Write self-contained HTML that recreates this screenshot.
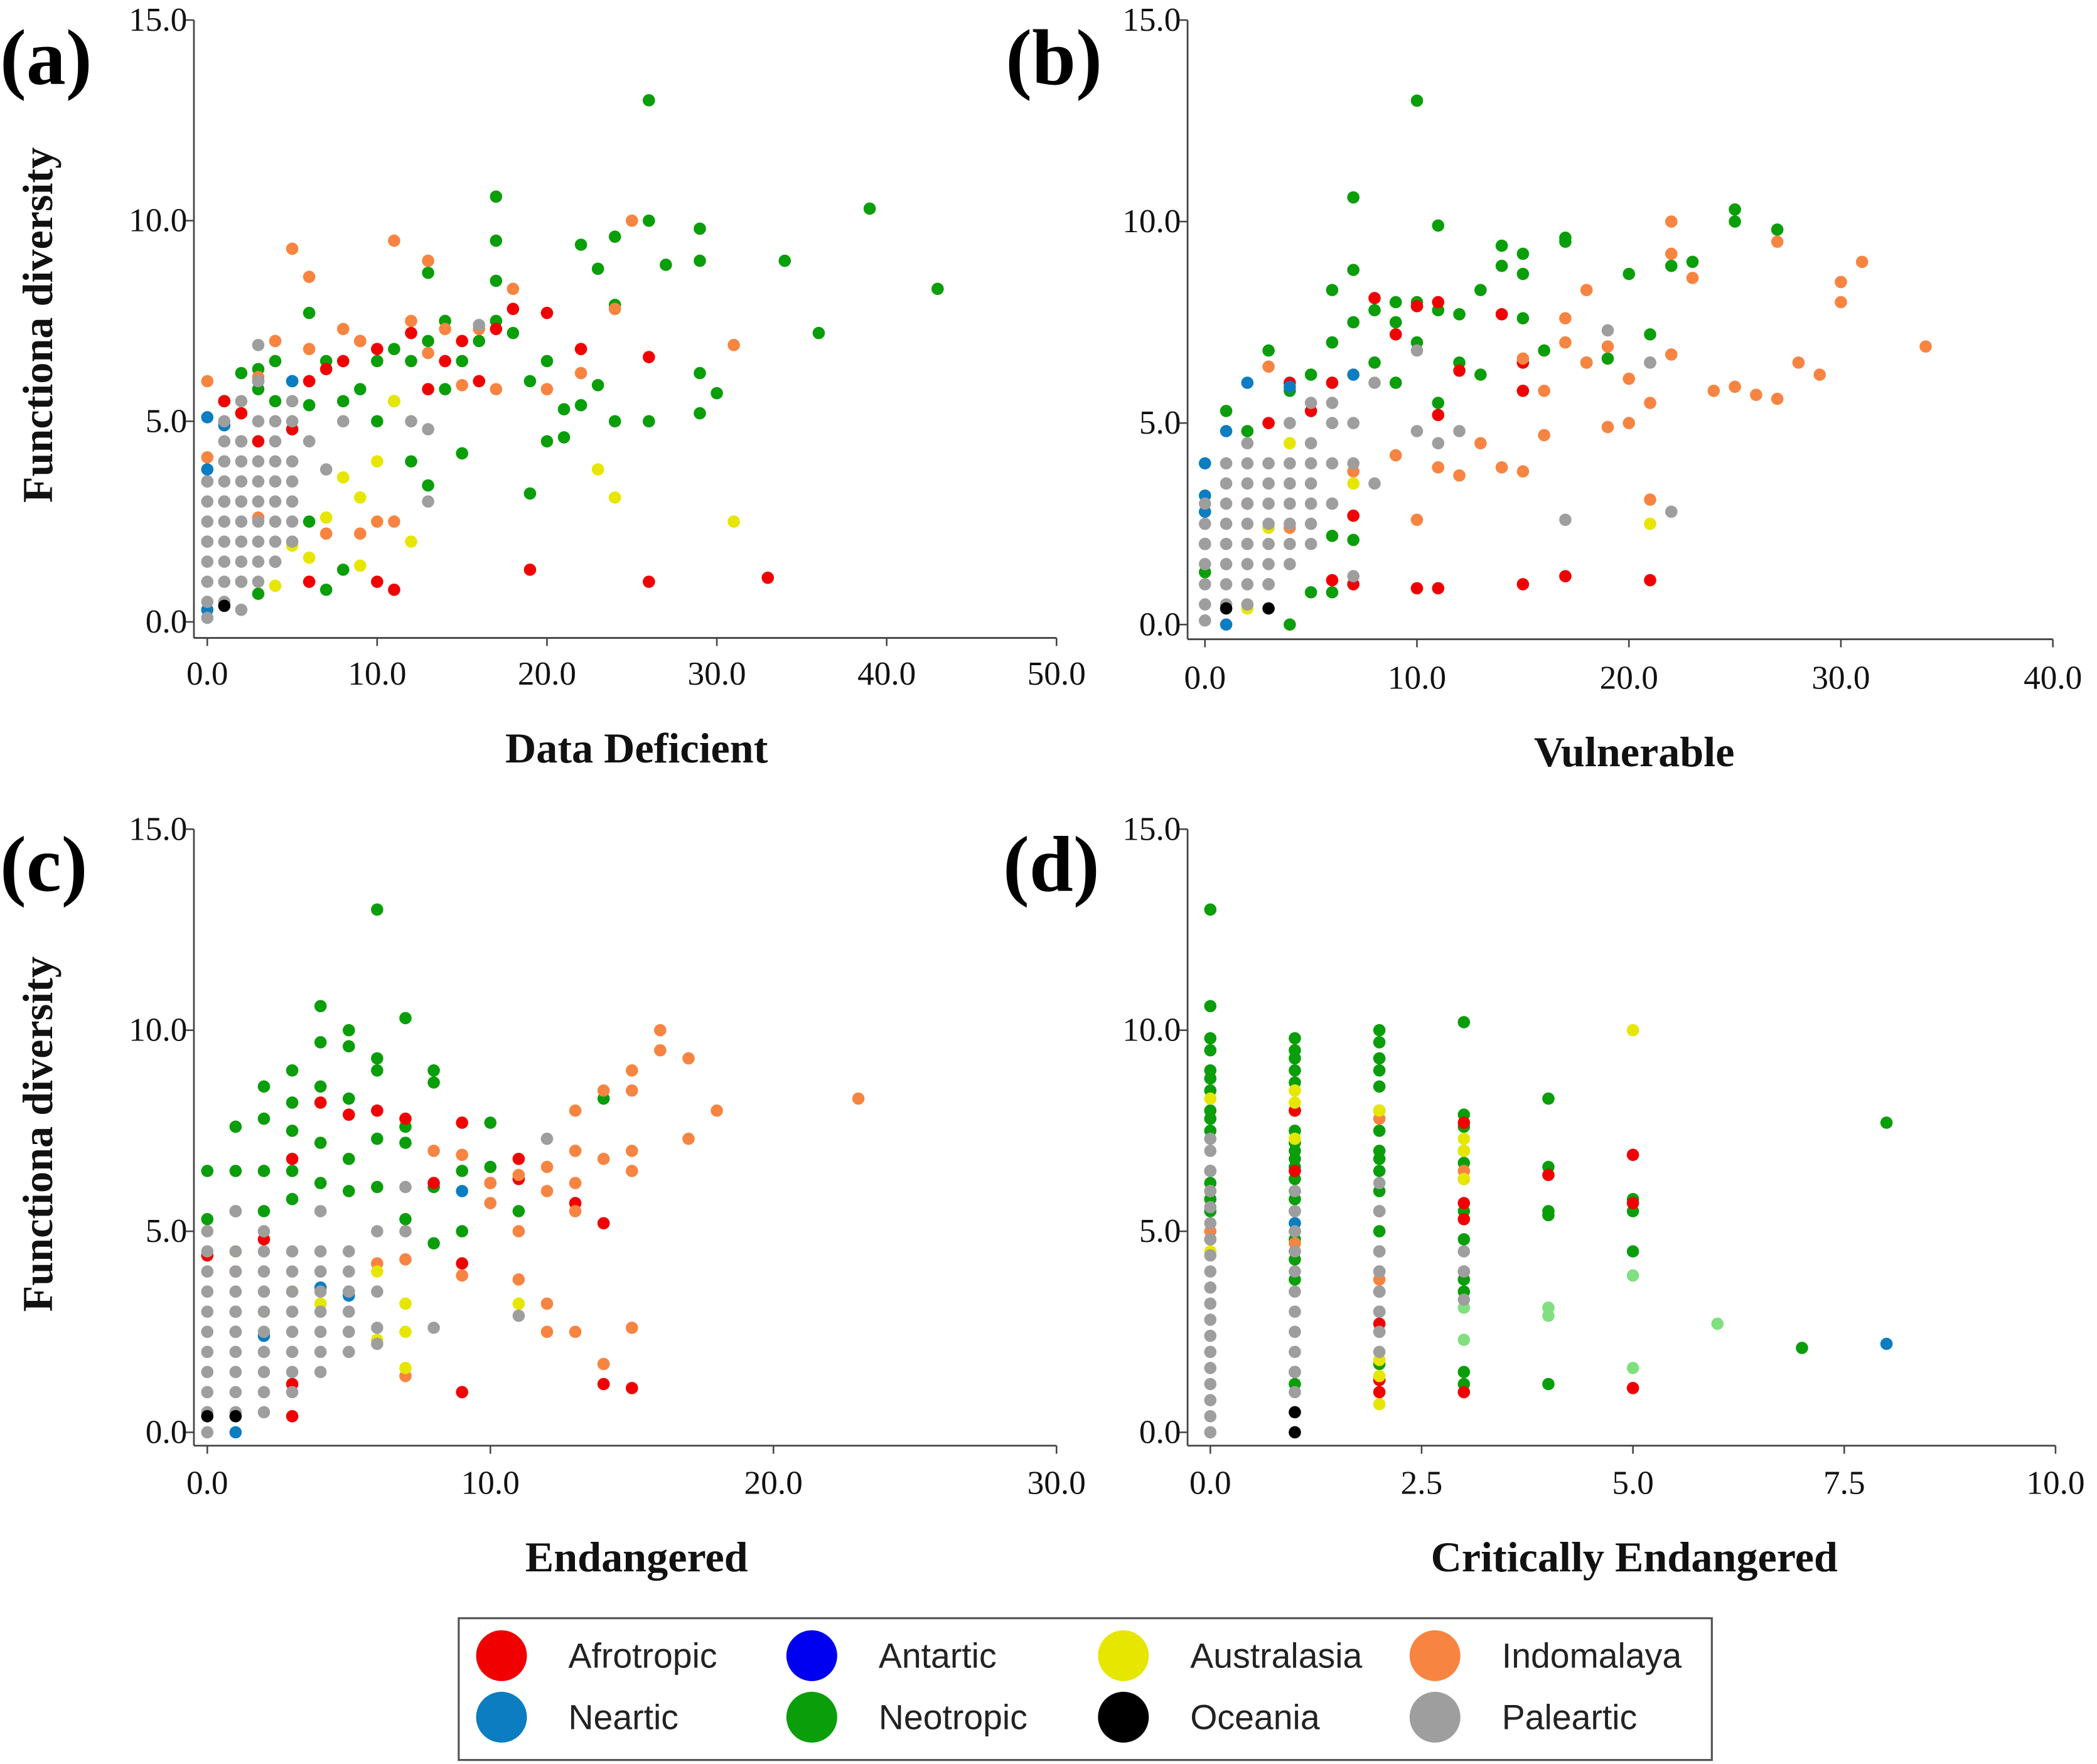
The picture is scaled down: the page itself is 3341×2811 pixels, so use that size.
<!DOCTYPE html>
<html><head><meta charset="utf-8">
<style>
html,body{margin:0;padding:0;background:#fff;}
svg{display:block;}
.tk{font-family:"Liberation Serif",serif;font-size:25px;fill:#111;}
.ttl{font-family:"Liberation Serif",serif;font-size:32px;font-weight:bold;fill:#111;}
.pl{font-family:"Liberation Serif",serif;font-size:59px;font-weight:bold;fill:#000;}
.lg{font-family:"Liberation Sans",sans-serif;font-size:26px;fill:#222;}
</style></head>
<body>
<svg id="fig" width="3341" height="2811" viewBox="0 0 1568 1319" preserveAspectRatio="none" xmlns="http://www.w3.org/2000/svg">
<rect x="0" y="0" width="1568" height="1319" fill="#fff"/>
<g id="legend">
<rect x="343" y="1210" width="937" height="106" fill="#fff" stroke="#555" stroke-width="1.5"/>
</g>
</svg>
<script>
const panelA_pale=[[0,0.1],[0,0.5],[0,1],[0,1.5],[0,2],[0,2.5],[0,3],[0,3.5],[1,0.5],[1,1],[1,1.5],[1,2],[1,2.5],[1,3],[1,3.5],[1,4],[1,4.5],[1,5],[2,0.3],[2,1],[2,1.5],[2,2],[2,2.5],[2,3],[2,3.5],[2,4],[2,4.5],[2,5.5],[3,1],[3,1.5],[3,2],[3,2.5],[3,3],[3,3.5],[3,4],[3,5],[3,6],[3,6.9],[4,1.5],[4,2],[4,2.5],[4,3],[4,3.5],[4,4],[4,4.5],[4,5],[5,2],[5,2.5],[5,3],[5,3.5],[5,4],[5,5],[5,5.5],[6,4.5],[7,3.8],[8,5],[13,3],[13,4.8],[16,7.4],[12,5]];
const panelA_neo=[[0,2],[1,3],[2,6.2],[2,1],[3,0.7],[3,6.3],[4,6.5],[4,5.5],[4,1.5],[5,6],[6,7.7],[6,2.5],[6,5.4],[7,0.8],[7,6.5],[8,1.3],[8,5.5],[9,5.8],[10,6.5],[10,5],[11,5.5],[11,6.8],[12,4],[12,6.5],[13,3.4],[13,7],[13,8.7],[14,5.8],[14,7.5],[15,4.2],[15,6.5],[16,7],[17,10.6],[17,9.5],[17,8.5],[17,7.5],[18,7.2],[19,6],[19,3.2],[20,4.5],[20,6.5],[21,5.3],[21,4.6],[22,9.4],[22,5.4],[23,8.8],[23,5.9],[24,9.6],[24,5],[24,7.9],[26,13],[26,10],[26,5],[27,8.9],[29,9.8],[29,9],[29,6.2],[29,5.2],[30,5.7],[34,9],[36,7.2],[39,10.3],[43,8.3],[1,5.5],[2,4.5],[3,5.8]];
const panelA_afro=[[1,5.5],[2,5.2],[3,4.5],[5,4.8],[6,1],[6,6],[7,6.3],[8,6.5],[9,7],[10,1],[11,0.8],[10,6.8],[12,7.2],[13,5.8],[14,6.5],[15,7],[16,6],[17,7.3],[18,7.8],[19,1.3],[20,7.7],[22,6.8],[26,6.6],[26,1],[33,1.1]];
const panelA_indo=[[0,6],[0,4.1],[1,4],[3,6.1],[4,7],[5,9.3],[5,2],[6,8.6],[6,6.8],[7,2.2],[8,7.3],[9,7],[9,2.2],[10,2.5],[11,9.5],[11,2.5],[12,7.5],[13,9],[13,6.7],[14,7.3],[15,5.9],[16,7.3],[17,5.8],[18,8.3],[20,5.8],[22,6.2],[24,7.8],[25,10],[31,6.9],[3,2.6]];
const panelA_aus=[[4,0.9],[5,1.9],[6,1.6],[7,2.6],[8,3.6],[9,3.1],[9,1.4],[11,5.5],[12,2],[23,3.8],[24,3.1],[31,2.5],[10,4]];
const panelA_nearctic=[[0,5.1],[0,3.5],[0,3.8],[1,4.9],[3,6],[5,6],[0,0.3]];
const panelA_oceania=[[1,0.4]];

const panelB_pale=[[0,0.1],[0,0.5],[0,1],[0,1.5],[0,2],[0,2.5],[0,3],[1,0.5],[1,1],[1,1.5],[1,2],[1,2.5],[1,3],[1,3.5],[1,4],[2,0.5],[2,1],[2,1.5],[2,2],[2,2.5],[2,3],[2,3.5],[2,4],[2,4.5],[3,1],[3,1.5],[3,2],[3,2.5],[3,3],[3,3.5],[3,4],[4,1.5],[4,2],[4,2.5],[4,3],[4,3.5],[4,4],[4,5],[5,2],[5,2.5],[5,3],[5,3.5],[5,4],[5,4.5],[5,5.5],[6,3],[6,4],[6,5],[6,5.5],[7,1.2],[7,4],[7,5],[8,3.5],[8,6],[10,4.8],[10,6.8],[11,4.5],[12,4.8],[17,2.6],[19,7.3],[22,2.8],[21,6.5]];
const panelB_neo=[[1,5.3],[2,4.8],[3,6.8],[3,1],[4,0],[4,5.8],[5,0.8],[5,6.2],[6,0.8],[6,8.3],[6,7],[6,2.2],[7,10.6],[7,8.8],[7,7.5],[7,2.1],[8,7.8],[8,6.5],[9,8],[9,7.5],[9,6],[10,13],[10,8],[10,7],[11,9.9],[11,7.8],[11,5.5],[12,6.5],[12,7.7],[13,8.3],[13,6.2],[14,9.4],[14,8.9],[15,9.2],[15,8.7],[15,7.6],[16,6.8],[17,9.6],[17,9.5],[18,6.5],[20,8.7],[21,7.2],[22,8.9],[23,9],[25,10.3],[25,10],[27,9.8],[19,6.6],[0,1.3]];
const panelB_afro=[[2,3],[3,5],[4,6],[5,5.3],[6,1.1],[6,6],[7,1],[7,2.7],[8,8.1],[9,7.2],[10,7.9],[10,0.9],[11,0.9],[11,8],[12,6.3],[14,7.7],[15,6.5],[15,5.8],[15,1],[17,1.2],[21,1.1],[11,5.2]];
const panelB_indo=[[3,6.4],[4,2.4],[6,3],[7,3.8],[9,4.2],[10,2.6],[11,3.9],[12,3.7],[13,4.5],[14,3.9],[15,3.8],[15,6.6],[16,5.8],[16,4.7],[17,7],[17,7.6],[18,6.5],[18,8.3],[19,4.9],[19,6.9],[20,5],[20,6.1],[21,5.5],[21,6.5],[21,3.1],[22,10],[22,9.2],[22,6.7],[23,8.6],[24,5.8],[25,5.9],[26,5.7],[27,5.6],[27,9.5],[28,6.5],[29,6.2],[30,8],[30,8.5],[31,9],[34,6.9]];
const panelB_aus=[[2,0.4],[3,2.4],[7,3.5],[21,2.5],[4,4.5]];
const panelB_nearctic=[[0,4],[0,3.2],[0,2.8],[1,4.8],[1,0],[2,6],[4,5.9],[7,6.2],[0,2]];
const panelB_oceania=[[3,0.4],[1,0.4]];

const panelC_pale=[[0,0],[0,0.5],[0,1],[0,1.5],[0,2],[0,2.5],[0,3],[0,3.5],[0,4],[0,4.5],[0,5],[1,0.5],[1,1],[1,1.5],[1,2],[1,2.5],[1,3],[1,3.5],[1,4],[1,4.5],[1,5.5],[2,0.5],[2,1],[2,1.5],[2,2],[2,2.5],[2,3],[2,3.5],[2,4],[2,4.5],[2,5],[3,1],[3,1.5],[3,2],[3,2.5],[3,3],[3,3.5],[3,4],[3,4.5],[4,1.5],[4,2],[4,2.5],[4,3],[4,3.5],[4,4],[4,4.5],[4,5.5],[5,2],[5,2.5],[5,3],[5,3.5],[5,4],[5,4.5],[6,2.2],[6,2.6],[6,3.5],[6,5],[7,5],[7,6.1],[8,2.6],[11,2.9],[12,7.3]];
const panelC_neo=[[0,6.5],[0,5.3],[1,7.6],[1,6.5],[1,5.5],[2,8.6],[2,7.8],[2,6.5],[2,5.5],[3,9],[3,8.2],[3,7.5],[3,6.5],[3,5.8],[4,10.6],[4,9.7],[4,8.6],[4,7.2],[4,6.2],[5,10],[5,9.6],[5,8.3],[5,6.8],[5,6],[6,13],[6,9.3],[6,9],[6,7.3],[6,6.1],[7,10.3],[7,7.6],[7,7.2],[8,9],[8,8.7],[8,6.1],[9,6.5],[9,5],[10,7.7],[10,6.6],[11,5.5],[14,8.3],[8,4.7],[7,5.3]];
const panelC_afro=[[0,4.4],[1,4],[2,4.8],[3,0.4],[3,6.8],[4,8.2],[5,7.9],[6,8],[7,7.8],[8,6.2],[9,7.7],[9,4.2],[9,1],[10,6.2],[11,6.8],[13,5.7],[14,5.2],[14,1.2],[15,1.1],[11,6.3],[3,1.2]];
const panelC_indo=[[4,4],[5,3.5],[5,2.5],[6,4.2],[7,1.4],[7,4.3],[8,7],[9,3.9],[9,6.9],[10,5.7],[10,6.2],[11,6.4],[11,3.8],[11,5],[12,6.6],[12,6],[12,3.2],[12,2.5],[13,8],[13,7],[13,6.2],[13,5.5],[13,2.5],[14,8.5],[14,6.8],[14,1.7],[15,9],[15,8.5],[15,7],[15,6.5],[15,2.6],[16,10],[16,9.5],[17,9.3],[17,7.3],[18,8],[23,8.3]];
const panelC_aus=[[1,4.5],[3,3.5],[4,3.2],[6,4],[7,3.2],[7,2.5],[7,1.6],[11,3.2],[2,3],[6,2.3]];
const panelC_nearctic=[[1,0],[1,3],[2,2.4],[4,3.6],[5,3.4],[9,6],[1,2.5]];
const panelC_oceania=[[1,0.4],[0,0.4]];

const panelD_pale=[[0,0],[0,0.4],[0,0.8],[0,1.2],[0,1.6],[0,2],[0,2.4],[0,2.8],[0,3.2],[0,3.6],[0,4],[0,4.4],[0,4.8],[0,5.2],[0,5.6],[0,6],[0,6.5],[0,7],[0,7.3],[1,1],[1,1.5],[1,2],[1,2.5],[1,3],[1,3.5],[1,4],[1,4.5],[1,5],[1,5.5],[1,6],[2,2],[2,2.5],[2,3],[2,3.5],[2,4],[2,4.5],[2,5.5],[2,6.2],[3,3.3],[3,4],[3,4.5]];
const panelD_neo=[[0,13],[0,10.6],[0,9.8],[0,9.5],[0,9],[0,8.8],[0,8.5],[0,8],[0,7.8],[0,7.5],[0,6.5],[0,6.2],[0,6],[0,5.8],[0,5.5],[1,9.8],[1,9.5],[1,9.3],[1,9],[1,8.7],[1,8],[1,7.5],[1,7.2],[1,7],[1,6.8],[1,6.6],[1,6.3],[1,6],[1,5.8],[1,5.5],[1,5],[1,4.8],[1,4.3],[1,3.8],[1,1.5],[1,1.2],[2,10],[2,9.7],[2,9.3],[2,9],[2,8.6],[2,8],[2,7.5],[2,7],[2,6.8],[2,6.5],[2,6],[2,5.5],[2,5],[2,4.5],[2,4],[2,3],[2,2.5],[2,1.7],[3,10.2],[3,7.9],[3,7.6],[3,7],[3,6.7],[3,6.3],[3,5.5],[3,4.8],[3,3.8],[3,3.5],[3,1.5],[3,1.2],[4,8.3],[4,6.6],[4,5.5],[4,5.4],[4,1.2],[5,5.8],[5,5.5],[5,4.5],[7,2.1],[8,7.7]];
const panelD_neoLight=[[3,3.1],[3,2.3],[4,3.1],[4,2.9],[5,3.9],[5,1.6],[6,2.7]];
const panelD_afro=[[1,8],[1,6.5],[2,3.5],[2,2.7],[2,1.3],[2,1],[3,7.7],[3,5.7],[3,5.3],[3,4],[3,1],[4,6.4],[5,6.9],[5,5.7],[5,1.1],[1,4.5],[0,4.8]];
const panelD_aus=[[0,8.3],[0,6],[1,8.5],[1,8.2],[1,7.3],[2,8],[2,1.8],[2,1.4],[2,0.7],[3,7.3],[3,7],[3,6.3],[5,10],[0,4.5]];
const panelD_indo=[[0,5],[1,4.7],[2,7.8],[2,3.8],[3,6.5]];
const panelD_nearctic=[[8,2.2],[1,5.2]];
const panelD_oceania=[[1,0.5],[1,0]];

const xTicksA=["0.0","10.0","20.0","30.0","40.0","50.0"];
const xTicksB=["0.0","10.0","20.0","30.0","40.0"];
const xTicksC=["0.0","10.0","20.0","30.0"];
const xTicksD=["0.0","2.5","5.0","7.5","10.0"];
const yTicks=["0.0","5.0","10.0","15.0"];
const legendNames=["Afrotropic","Antartic","Australasia","Indomalaya","Neartic","Neotropic","Oceania","Paleartic"];

const COL={afro:"#f00000",antartic:"#0000f0",aus:"#e6e600",indo:"#f88441",nearctic:"#0b7dc0",neo:"#0a9e0a",neoLight:"#80e080",oceania:"#000000",pale:"#9e9e9e"};
const NS="http://www.w3.org/2000/svg";
const svg=document.getElementById('fig');
function mk(tag,attrs,parent){const e=document.createElementNS(NS,tag);for(const k in attrs)e.setAttribute(k,attrs[k]);(parent||svg).appendChild(e);return e;}

const panels=[
 {id:"a",label:"(a)",lx:0,ly:63,ax:145,y0:465,y15:15,axY:477,x0:155,x1:790,xmax:50,xt:xTicksA,title:"Data Deficient",tx:476,ty:570,yt:243,tky:512,
  s:[["neo",panelA_neo],["afro",panelA_afro],["indo",panelA_indo],["aus",panelA_aus],["nearctic",panelA_nearctic],["pale",panelA_pale],["oceania",panelA_oceania]]},
 {id:"b",label:"(b)",lx:752,ly:63,ax:888,y0:467,y15:15,axY:478,x0:901,x1:1535,xmax:40,xt:xTicksB,title:"Vulnerable",tx:1222,ty:573,yt:null,tky:515,
  s:[["neo",panelB_neo],["afro",panelB_afro],["indo",panelB_indo],["aus",panelB_aus],["nearctic",panelB_nearctic],["pale",panelB_pale],["oceania",panelB_oceania]]},
 {id:"c",label:"(c)",lx:0,ly:666,ax:145,y0:1071,y15:620,axY:1081,x0:155,x1:790,xmax:30,xt:xTicksC,title:"Endangered",tx:476,ty:1175,yt:848,tky:1117,
  s:[["neo",panelC_neo],["afro",panelC_afro],["indo",panelC_indo],["aus",panelC_aus],["nearctic",panelC_nearctic],["pale",panelC_pale],["oceania",panelC_oceania]]},
 {id:"d",label:"(d)",lx:750,ly:666,ax:888,y0:1071,y15:620,axY:1081,x0:905,x1:1537,xmax:10,xt:xTicksD,title:"Critically Endangered",tx:1222,ty:1175,yt:null,tky:1117,
  s:[["neo",panelD_neo],["neoLight",panelD_neoLight],["afro",panelD_afro],["indo",panelD_indo],["aus",panelD_aus],["nearctic",panelD_nearctic],["pale",panelD_pale],["oceania",panelD_oceania]]}
];

panels.forEach(p=>{
 const g=mk('g',{});
 
 
 const sx=v=>p.x0+(v/p.xmax)*(p.x1-p.x0);
 const sy=v=>p.y0-(v/15)*(p.y0-p.y15);
 const ya=mk('line',{x1:p.ax,y1:p.y15,x2:p.ax,y2:p.axY,stroke:"#444","stroke-width":1.3},g);
 
 
 const xa=mk('line',{x1:p.ax,y1:p.axY,x2:p.x1,y2:p.axY,stroke:"#444","stroke-width":1.3},g);
 
 
 yTicks.forEach((t,i)=>{
  const v=parseFloat(t);
  mk('line',{x1:p.ax-6,y1:sy(v),x2:p.ax,y2:sy(v),stroke:"#444","stroke-width":1.2},g);
  const tx=mk('text',{x:p.ax-5,y:sy(v)+8,"text-anchor":"end",class:"tk"},g);
  tx.textContent=t;
  
  
 });
 p.xt.forEach(t=>{
  const v=parseFloat(t);
  mk('line',{x1:sx(v),y1:p.axY,x2:sx(v),y2:p.axY+6,stroke:"#444","stroke-width":1.2},g);
  const tx=mk('text',{x:sx(v),y:p.tky,"text-anchor":"middle",class:"tk"},g);
  tx.textContent=t;
  
  
 });
 const xt=mk('text',{x:p.tx,y:p.ty,"text-anchor":"middle",class:"ttl"},g);
 xt.textContent=p.title;
 
 
 if(p.yt!==null){
  const yt=mk('text',{x:0,y:0,"text-anchor":"middle",class:"ttl",transform:`translate(39,${p.yt}) rotate(-90)`},g);
  yt.textContent="Functiona diversity";
  
  
 }
 const pl=mk('text',{x:p.lx,y:p.ly,class:"pl"},g);
 pl.textContent=p.label;
 
 
 p.s.forEach(([key,arr])=>{
  const sg=mk('g',{fill:COL[key]},g);
  
  
  arr.forEach(d=>{
   const c=mk('circle',{cx:sx(d[0]),cy:sy(d[1]),r:4.6},sg);
   
   
  });
 });
});

const lg=document.getElementById('legend');
const legKeys=["afro","antartic","aus","indo","nearctic","neo","oceania","pale"];
const lcx=[375,607,840,1073], lcy=[1238,1284];
legendNames.forEach((n,i)=>{
 const col=i%4,row=Math.floor(i/4);
 const c=mk('circle',{cx:lcx[col],cy:lcy[row],r:19,fill:COL[legKeys[i]]},lg);
 
 
 const t=mk('text',{x:lcx[col]+50,y:lcy[row]+9,class:"lg"},lg);
 t.textContent=n;
 
 
});
</script>
</body></html>
